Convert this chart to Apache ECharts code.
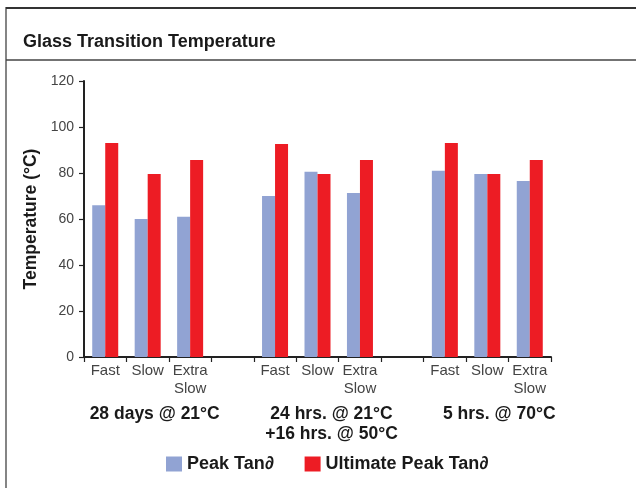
<!DOCTYPE html>
<html>
<head>
<meta charset="utf-8">
<script src="https://cdn.jsdelivr.net/npm/echarts@6/dist/echarts.min.js"></script>
<style>
html,body{margin:0;padding:0;background:#fff;}
#chart{width:636px;height:488px;}
</style>
</head>
<body>
<div id="chart"></div>
<script>
var categories = ['Fast', 'Slow', 'Extra\nSlow', '', 'Fast', 'Slow', 'Extra\nSlow', '', 'Fast', 'Slow', 'Extra\nSlow'];
var groupLabels = ['28 days @ 21°C', '24 hrs. @ 21°C\n+16 hrs. @ 50°C', '5 hrs. @ 70°C'];
var groupCenters = [1, 5, 9];
var peakTan = [66, 60, 61, null, 70, 80.5, 71.3, null, 81, 79.6, 76.5];
var ultimatePeakTan = [93, 79.6, 85.7, null, 92.6, 79.6, 85.7, null, 93, 79.6, 85.7];
var yTicks = {min: 0, max: 120, interval: 20};
var seriesNames = ['Peak Tan∂', 'Ultimate Peak Tan∂'];
var titleText = 'Glass Transition Temperature';
var yAxisTitle = 'Temperature (°C)';

// styling: horizontal shift of each group caption (px)
var groupLabelShift = [7, 14, 12];

var groupAxisData = categories.map(function (c, i) {
  var g = groupCenters.indexOf(i);
  if (g < 0) return '';
  return {value: groupLabels[g], textStyle: {padding: [0, 0, 0, groupLabelShift[g] * 2]}};
});

var chart = echarts.init(document.getElementById('chart'), null, {renderer: 'canvas'});
var font = 'Liberation Sans, Arial, Helvetica, sans-serif';
chart.setOption({
  animation: false,
  backgroundColor: '#fff',
  textStyle: {fontFamily: font},
  title: {
    text: titleText,
    left: 18,
    top: 28,
    textStyle: {fontSize: 18, fontWeight: 'bold', color: '#1a1a1a', fontFamily: font}
  },
  graphic: [
    {type: 'line', shape: {x1: 6, y1: 8, x2: 640, y2: 8}, style: {stroke: '#333', lineWidth: 2}},
    {type: 'line', shape: {x1: 6, y1: 7, x2: 6, y2: 492}, style: {stroke: '#333', lineWidth: 1.2}},
    {type: 'line', shape: {x1: 6, y1: 60, x2: 640, y2: 60}, style: {stroke: '#444', lineWidth: 1.5}}
  ],
  legend: {
    left: 161,
    top: 450,
    itemWidth: 16,
    itemHeight: 15,
    itemGap: 31,
    icon: 'rect',
    textStyle: {fontSize: 18, fontWeight: 'bold', color: '#1a1a1a'},
    data: seriesNames
  },
  grid: {left: 84, right: 85, top: 81, bottom: 131, containLabel: false},
  xAxis: [
    {
      type: 'category',
      data: categories,
      boundaryGap: true,
      axisLine: {lineStyle: {color: '#222', width: 2}},
      axisTick: {show: true, length: 5, lineStyle: {color: '#222', width: 1.2}},
      axisLabel: {interval: 0, fontSize: 15, color: '#444', lineHeight: 18, margin: 5}
    },
    {
      type: 'category',
      data: groupAxisData,
      position: 'bottom',
      axisLine: {show: false},
      axisTick: {show: false},
      splitLine: {show: false},
      axisLabel: {interval: 0, fontSize: 17.5, fontWeight: 'bold', color: '#1a1a1a', lineHeight: 20, margin: 47}
    }
  ],
  yAxis: {
    type: 'value',
    min: yTicks.min,
    max: yTicks.max,
    interval: yTicks.interval,
    name: yAxisTitle,
    nameLocation: 'middle',
    nameGap: 40,
    nameTextStyle: {fontSize: 17.5, fontWeight: 'bold', color: '#1a1a1a'},
    axisLine: {show: true, lineStyle: {color: '#222', width: 2}},
    axisTick: {show: true, length: 5, lineStyle: {color: '#222', width: 1.2}},
    axisLabel: {fontSize: 14, color: '#444', margin: 10},
    splitLine: {show: false}
  },
  series: [
    {name: seriesNames[0], type: 'bar', data: peakTan, barWidth: 13, barGap: '0%', itemStyle: {color: '#91A3D3'}},
    {name: seriesNames[1], type: 'bar', data: ultimatePeakTan, barWidth: 13, barGap: '0%', itemStyle: {color: '#ED1C24'}}
  ]
});
</script>
</body>
</html>
